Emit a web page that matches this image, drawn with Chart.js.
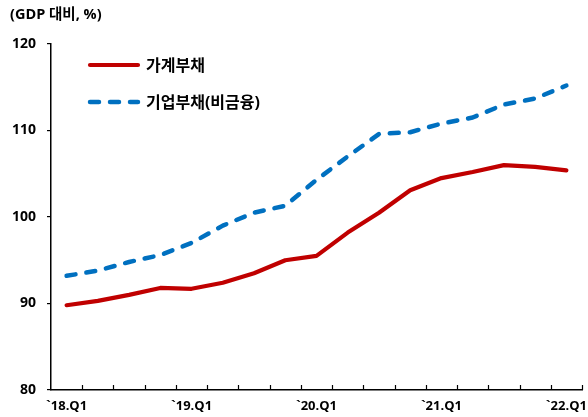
<!DOCTYPE html>
<html lang="ko">
<head>
<meta charset="utf-8">
<title>가계부채 · 기업부채(비금융)</title>
<script src="https://cdn.jsdelivr.net/npm/chart.js@4/dist/chart.umd.min.js"></script>
<style>
  html, body { margin: 0; padding: 0; background: #fff; overflow: hidden; }
  #wrap { width: 600px; height: 417px; }
</style>
</head>
<body>
<div id="wrap"><canvas id="c" width="600" height="417"></canvas></div>
<script>
// Quarters from 2018 Q1 to 2022 Q1
const quarters = [
  "`18.Q1", "`18.Q2", "`18.Q3", "`18.Q4",
  "`19.Q1", "`19.Q2", "`19.Q3", "`19.Q4",
  "`20.Q1", "`20.Q2", "`20.Q3", "`20.Q4",
  "`21.Q1", "`21.Q2", "`21.Q3", "`21.Q4",
  "`22.Q1"
];
// Debt as a share of GDP (%)
const householdDebt = [89.8, 90.3, 91.0, 91.8, 91.7, 92.4, 93.5, 95.0, 95.5, 98.2, 100.5, 103.1, 104.5, 105.2, 106.0, 105.8, 105.4];
const corporateDebt = [93.2, 93.8, 94.8, 95.6, 97.0, 99.0, 100.5, 101.3, 104.3, 107.0, 109.6, 109.8, 110.8, 111.5, 113.0, 113.7, 115.2];
const seriesNames = ["가계부채", "기업부채(비금융)"];
const yTicks = [80, 90, 100, 110, 120];
const unitLabel = "(GDP 대비, %)";

// Latin glyphs from Open Sans, Hangul from Noto Sans CJK
const FONT = "'Open Sans', 'Noto Sans CJK KR', sans-serif";

// Axis unit caption, legend inside the plot and inward x tick marks
const decorations = {
  id: 'decorations',
  afterDraw(chart) {
    const ctx = chart.ctx;
    const area = chart.chartArea;
    const xs = chart.scales.x;
    ctx.save();
    // unit caption
    ctx.fillStyle = '#000';
    ctx.font = `bold 14.5px ${FONT}`;
    ctx.textBaseline = 'middle';
    ctx.textAlign = 'left';
    ctx.fillText(unitLabel, 10, 15);

    // x tick marks at category boundaries, pointing up into the plot
    const n = quarters.length;
    const step = (xs.right - xs.left) / n;
    ctx.strokeStyle = '#000';
    ctx.lineWidth = 1.2;
    ctx.beginPath();
    for (let i = 1; i <= n; i++) {
      const x = Math.round(xs.left + i * step) + 0.5;
      ctx.moveTo(x, area.bottom);
      ctx.lineTo(x, area.bottom - 5);
    }
    ctx.stroke();

    // legend
    const rows = [
      { ds: chart.data.datasets[0], y: 65 },
      { ds: chart.data.datasets[1], y: 102 }
    ];
    ctx.font = `bold 16px ${FONT}`;
    rows.forEach(r => {
      ctx.beginPath();
      ctx.strokeStyle = r.ds.borderColor;
      ctx.lineWidth = r.ds.borderWidth;
      ctx.lineCap = r.ds.borderCapStyle || 'butt';
      ctx.setLineDash(r.ds.borderDash || []);
      ctx.moveTo(90, r.y);
      ctx.lineTo(138, r.y);
      ctx.stroke();
      ctx.setLineDash([]);
      ctx.fillStyle = '#000';
      ctx.fillText(r.ds.label, 146, r.y + 1);
    });
    ctx.restore();
  }
};

new Chart(document.getElementById('c'), {
  type: 'line',
  data: {
    labels: quarters,
    datasets: [
      {
        label: seriesNames[0],
        data: householdDebt,
        borderColor: '#C00000',
        borderWidth: 4.2,
        borderCapStyle: 'round',
        borderJoinStyle: 'round',
        pointRadius: 0,
        tension: 0
      },
      {
        label: seriesNames[1],
        data: corporateDebt,
        borderColor: '#0070C0',
        borderWidth: 4.5,
        borderDash: [9, 11],
        borderCapStyle: 'round',
        borderJoinStyle: 'round',
        pointRadius: 0,
        tension: 0
      }
    ]
  },
  options: {
    responsive: false,
    animation: false,
    events: [],
    layout: { padding: { top: 44, right: 18, left: 0, bottom: 0 } },
    plugins: { legend: { display: false }, tooltip: { enabled: false }, title: { display: false } },
    scales: {
      x: {
        type: 'category',
        offset: true,
        grid: { display: false, drawTicks: false },
        border: { display: true, color: '#000', width: 1.5 },
        ticks: {
          autoSkip: false,
          maxRotation: 0,
          padding: 8,
          color: '#000',
          font: { family: FONT, size: 13, weight: 'bold' },
          callback: (v, i) => (i % 4 === 0 ? quarters[i] : '')
        },
        afterFit(s) { s.height = 27; }
      },
      y: {
        min: 80,
        max: 120,
        afterBuildTicks(s) { s.ticks = yTicks.map(v => ({ value: v })); },
        grid: { display: true, drawOnChartArea: false, drawTicks: true, tickLength: 4, color: '#000', lineWidth: 1.2 },
        border: { display: true, color: '#000', width: 1.5 },
        ticks: {
          padding: 11,
          color: '#000',
          font: { family: FONT, size: 14, weight: 'bold' }
        },
        afterFit(s) { s.width = 51; }
      }
    }
  },
  plugins: [decorations]
});
</script>
</body>
</html>
